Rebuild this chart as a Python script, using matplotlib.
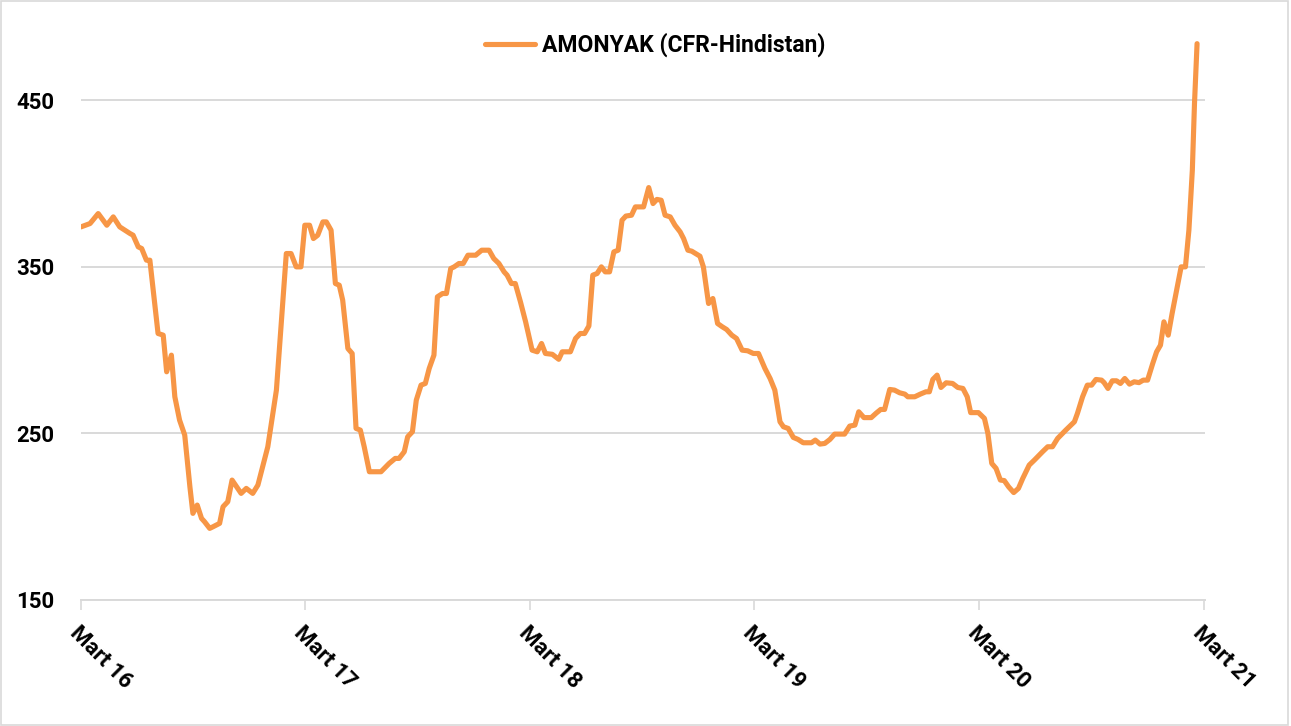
import matplotlib
matplotlib.use("Agg")
import matplotlib.pyplot as plt
import pandas as pd
from matplotlib.patches import Rectangle

# weeks since March 2016 and price (USD/t)
weeks = [0, 2.1, 4.0, 6.0, 7.5, 9.0, 11.4, 12.1, 13.3, 14.1, 15.2, 16.0, 17.9, 19.1, 19.9, 21.0,
         21.8, 22.9, 24.1, 25.3, 26.0, 27.0, 28.0, 28.7, 29.9, 30.7, 32.2, 33.0, 34.1, 35.1,
         37.2, 38.4, 39.9, 41.1, 43.4, 45.4, 47.7, 48.8, 50.0, 51.1, 52.0, 53.1, 54.0, 55.0,
         56.2, 57.0, 58.1, 59.1, 60.0, 60.8, 62.0, 63.0, 63.9, 64.9, 65.8, 67.0, 69.7, 71.6,
         73.0, 73.9, 75.1, 75.9, 77.0, 77.9, 79.0, 80.0, 80.9, 82.0, 82.8, 84.0, 84.9, 85.9,
         86.7, 87.8, 88.8, 89.9, 91.7, 93.1, 94.8, 95.9, 97.1, 98.3, 99.0, 100.0, 100.9, 102.1,
         103.3, 104.8, 106.0, 107.0, 107.9, 109.5, 111.0, 111.8, 113.7, 114.9, 116.0, 117.0,
         118.0, 118.9, 119.9, 120.9, 121.8, 122.8, 123.8, 124.8, 125.7, 126.6, 127.9, 128.8,
         130.7, 131.9, 132.9, 133.8, 134.8, 135.7, 136.9, 138.0, 139.2, 140.0, 141.0, 141.9,
         143.8, 144.6, 145.8, 146.8, 147.9, 149.0, 150.0, 151.2, 152.3, 153.6, 154.9, 156.2,
         157.4, 158.9, 160.1, 161.2, 162.4, 163.2, 164.3, 165.5, 166.6, 167.8, 169.7, 170.6,
         171.7, 172.8, 174.0, 175.1, 177.4, 178.6, 179.8, 180.7, 181.9, 183.6, 184.8, 185.8,
         186.7, 187.9, 189.0, 190.2, 191.4, 192.1, 193.7, 195.0, 196.3, 197.1, 197.9, 198.9,
         199.8, 201.0, 202.5, 203.7, 204.9, 205.9, 206.7, 208.5, 209.9, 210.7, 211.6, 212.6,
         213.6, 214.5, 215.5, 216.7, 217.8, 218.8, 220.3, 221.5, 223.4, 224.6, 225.7, 226.9,
         228.8, 230.8, 231.5, 232.7, 233.8, 234.8, 235.8, 237.1, 237.7, 238.6, 239.6, 240.6,
         241.5, 242.5, 243.6, 244.7, 245.8, 246.8, 247.8, 249.0, 249.9, 250.8, 251.6, 252.6,
         253.5, 254.7, 255.6, 256.6, 257.4, 258.2, 258.7, 259.3]
prices = [374, 376, 382, 375, 380, 374, 370, 369, 362, 361, 354, 354, 310, 309, 287, 297,
          272, 258, 249, 218, 202, 207, 199, 197, 193, 194, 196, 206, 209, 222,
          214, 217, 214, 219, 242, 276, 358, 358, 350, 350, 375, 375, 367, 369,
          377, 377, 372, 340, 339, 330, 301, 298, 253, 252, 242, 227, 227, 232,
          235, 235, 239, 248, 251, 270, 279, 280, 289, 297, 332, 334, 334, 349,
          350, 352, 352, 357, 357, 360, 360, 355, 352, 347, 345, 340, 340, 329,
          317, 300, 299, 304, 298, 297.5, 294.5, 299, 299, 307, 310, 310,
          314.5, 345, 346, 350, 347, 347, 359, 360, 378, 380.5, 381, 386,
          386, 397.6, 388, 390.5, 390, 381, 380, 375, 371, 367, 360, 359.4,
          356.4, 350, 328, 331, 316, 314, 312.4, 309, 307, 300, 299.6, 298,
          298, 289, 283, 276, 257, 254, 253, 247.6, 246.4, 244.4, 244.4, 246,
          243.6, 244, 246.4, 249.6, 249.6, 254.4, 255, 263, 259.5, 259.5, 262.3, 264.4,
          264.4, 276.4, 276, 274.4, 273.6, 272, 272, 273.6, 275, 275, 282.4, 285,
          277.6, 280.4, 280, 277.6, 277, 272, 262.5, 262.5, 259, 250, 232, 229,
          222, 221.7, 218, 214.5, 217, 223, 231, 234, 239, 242, 242, 247,
          252, 257, 262, 272, 279, 279, 282.4, 282, 280.5, 277, 281.6, 281.6,
          280, 283, 279.6, 281, 280.5, 282, 282, 292, 299, 303, 317, 309,
          322, 338, 350, 350, 372, 408, 448, 484]

series_name = "AMONYAK (CFR-Hindistan)"
tick_labels = ["Mart 16", "Mart 17", "Mart 18", "Mart 19", "Mart 20", "Mart 21"]
tick_years = [2016, 2017, 2018, 2019, 2020, 2021]
y_ticks = [150, 250, 350, 450]

start = pd.Timestamp("2016-03-01")
dates = [start + pd.Timedelta(days=w * 7) for w in weeks]
tick_dates = [pd.Timestamp(f"{y}-03-01") for y in tick_years]

plt.rcParams['font.family'] = ['Roboto', 'DejaVu Sans']

fig = plt.figure(figsize=(12.91, 7.26), dpi=100)
ax = fig.add_axes([81 / 1291, 1 - 600 / 726, (1205 - 81) / 1291, (600 - 17) / 726])

color = "#F79646"
ax.plot(dates, prices, color=color, lw=3.7, solid_joinstyle='round',
        solid_capstyle='round', label=series_name, zorder=3)

ax.set_xlim(tick_dates[0], tick_dates[-1] + pd.Timedelta(days=2))
ax.set_ylim(150, 500)
ax.set_yticks(y_ticks)
ax.set_yticklabels([str(v) for v in y_ticks], fontsize=16, fontweight='bold')
ax.set_xticks(tick_dates)
ax.set_xticklabels(tick_labels, fontsize=16, fontweight='bold', rotation=-45,
                   ha='left', va='top', rotation_mode='anchor')

ax.grid(axis='y', color='#D9D9D9', lw=1.4, zorder=0)
ax.set_axisbelow(True)
for s in ['top', 'right', 'left']:
    ax.spines[s].set_visible(False)
ax.spines['bottom'].set_color('#D9D9D9')
ax.spines['bottom'].set_linewidth(1.4)
ax.tick_params(axis='y', length=0, pad=19)
ax.tick_params(axis='x', length=7, width=1.2, color='#D9D9D9', pad=9)

leg = ax.legend(loc='upper center', bbox_to_anchor=(0.511, 0.993), frameon=False,
                prop={'weight': 'bold', 'size': 16.5}, handlelength=2.2,
                borderaxespad=0.1, handletextpad=0.3)

fig.patches.append(Rectangle((0.001, 0.001), 0.997, 0.997, transform=fig.transFigure,
                             fill=False, edgecolor='#D9D9D9', lw=1.2))

fig.savefig("out.png", dpi=100)
